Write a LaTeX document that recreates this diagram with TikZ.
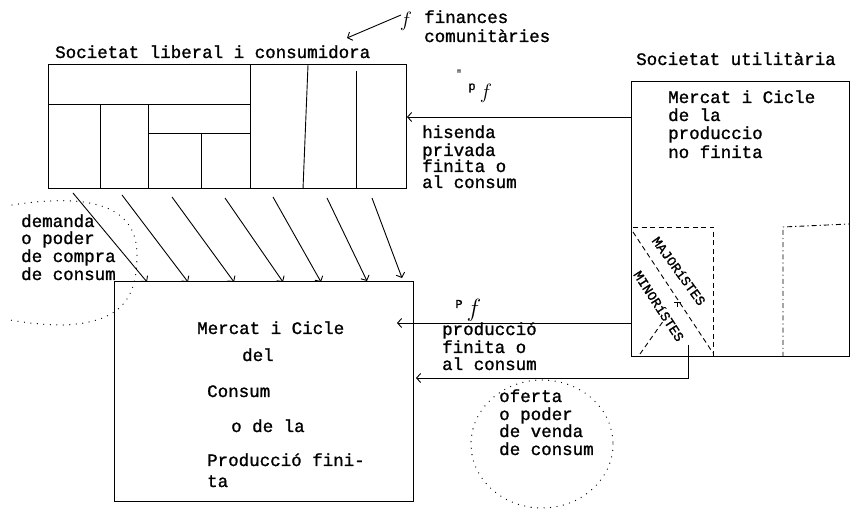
\documentclass[tikz,border=0pt]{standalone}
\usepackage{fontspec}
\usetikzlibrary{arrows.meta}
\newfontfamily\tw{Liberation Mono}[FakeBold=1.2]
\begin{document}
\begin{tikzpicture}[x=1pt,y=-1pt,
  box/.style={draw, line width=1pt, inner sep=0pt, outer sep=0pt, anchor=north west},
  ln/.style={line width=0.9pt},
  arr/.style={line width=0.9pt, -{Straight Barb[length=4pt,width=9pt,line width=0.9pt]}},
  txt/.style={anchor=base west, inner sep=0pt, font=\tw\fontsize{17.5}{17}\selectfont},
  hand/.style={inner sep=0pt, font=\tw\fontsize{13.5}{13}\selectfont},
  fsym/.style={inner sep=0pt, font=\fontsize{22}{22}\selectfont},
  dashsty/.style={line width=0.9pt, dash pattern=on 5pt off 3.5pt},
  dashdot/.style={line width=0.9pt, dash pattern=on 5pt off 3pt on 1.2pt off 3pt},
  dotsty/.style={line width=1.3pt, line cap=round, dash pattern=on 0pt off 6.5pt}
]
\useasboundingbox (0,0) rectangle (852,510);

% ---------- boxes ----------
\node[box, minimum width=358pt, minimum height=124pt] (lib) at (48,65) {};
\node[box, minimum width=218pt, minimum height=275pt] (util) at (631,82) {};
\node[box, minimum width=299pt, minimum height=220pt] (cons) at (114,282) {};

% inner divisions of the liberal society box
\draw[ln] (48,104) -- (250,104);
\draw[ln] (250,65) -- (250,189);
\draw[ln] (308,65) -- (303,189);
\draw[ln] (356,71) -- (356,189);
\draw[ln] (100,104) -- (100,189);
\draw[ln] (148,104) -- (148,189);
\draw[ln] (148,133) -- (250,133);
\draw[ln] (201,133) -- (201,189);

% inner divisions of the utilitarian box
\draw[dashsty] (633,227) -- (713,227) -- (713,357);
\draw[dashsty] (633,232) -- (713,353);
\draw[dashsty] (640,354) -- (664,320);
\draw[ln] (674,302) -- (681,302);
\draw[ln] (677.5,302) -- (677.5,307);
\draw[dashdot] (783,357) -- (783,227) -- (849,224);
\node[hand, rotate=-54] (maj) at (679,271) {MAJORíSTES};
\node[hand, rotate=-57] (min) at (659,306) {MINORíSTES};

% ---------- titles ----------
\node[txt] (t1) at (55,58) {Societat liberal i consumidora};
\node[txt] (t2) at (636,65) {Societat utilitària};

% finances comunitaries
\node[fsym] (ftop) at (406,21) {$f$};
\node[txt] (fin1) at (424,23) {finances};
\node[txt] (fin2) at (424,42) {comunitàries};
\coordinate (fA) at (401,15);
\coordinate (fB) at (347,38);
\draw[arr] (fA) -- (fB);

% hisenda privada arrow
\coordinate (hA) at (631,117);
\coordinate (hB) at (407,117);
\draw[arr] (hA) -- (hB);
\node[inner sep=0pt, font=\tw\fontsize{9}{9}\selectfont] (hq) at (459,73) {"};
\node[inner sep=0pt, font=\tw\fontsize{12}{12}\selectfont] (hp) at (472,88) {p};
\node[fsym] (hf) at (486,93) {$f$};
\node[txt] (h1) at (422,138) {hisenda};
\node[txt] (h2) at (422,156) {privada};
\node[txt] (h3) at (422,172) {finita o};
\node[txt] (h4) at (422,188) {al consum};

% right box text
\node[txt] (u1) at (668,103) {Mercat i Cicle};
\node[txt] (u2) at (668,121) {de la};
\node[txt] (u3) at (668,139) {produccio};
\node[txt] (u4) at (668,158) {no finita};

% ---------- diagonal arrows ----------
\foreach \i/\xa/\ya/\xb/\yb in {1/73/193/147/282, 2/122/195/188/282, 3/172/197/234/282,
    4/225/198/283/282, 5/273/197/321/282, 6/327/198/367/281, 7/372/198/402/278} {
  \coordinate (d\i a) at (\xa,\ya);
  \coordinate (d\i b) at (\xb,\yb);
  \draw[arr] (d\i a) -- (d\i b);
}

% demanda
\draw[dotsty] (12,205) .. controls (90,193) and (137,205) .. (137,255)
  .. controls (137,300) and (120,322) .. (65,325) .. controls (40,325) and (22,322) .. (10,320);
\node[txt] (dm1) at (21,227) {demanda};
\node[txt] (dm2) at (21,244) {o poder};
\node[txt] (dm3) at (21,262) {de compra};
\node[txt] (dm4) at (21,280) {de consum};

% consum box text
\node[txt] (c1) at (197,334) {Mercat i Cicle};
\node[txt] (c2) at (242,361) {del};
\node[txt] (c3) at (207,397) {Consum};
\node[txt] (c4) at (231,432) {o de la};
\node[txt] (c5) at (207,466) {Producció fini-};
\node[txt] (c6) at (207,487) {ta};

% produccio finita arrow
\coordinate (pA) at (631,323);
\coordinate (pB) at (397,323);
\draw[arr] (pA) -- (pB);
\node[inner sep=0pt, font=\tw\fontsize{12}{12}\selectfont] (pp) at (459,304) {P};
\node[inner sep=0pt, font=\fontsize{26}{26}\selectfont] (pf) at (474,310) {$f$};
\node[txt] (p1) at (442,335) {producció};
\node[txt] (p2) at (442,353) {finita o};
\node[txt] (p3) at (442,370) {al consum};

% oferta arrow
\coordinate (oA) at (688,345);
\coordinate (oB) at (688,378);
\coordinate (oC) at (416,378);
\draw[arr] (oA) -- (oB) -- (oC);
\draw[dotsty] (542,444) ellipse [x radius=71, y radius=64];
\node[txt] (o1) at (499,402) {oferta};
\node[txt] (o2) at (499,420) {o poder};
\node[txt] (o3) at (499,437) {de venda};
\node[txt] (o4) at (499,455) {de consum};
\end{tikzpicture}
\end{document}
